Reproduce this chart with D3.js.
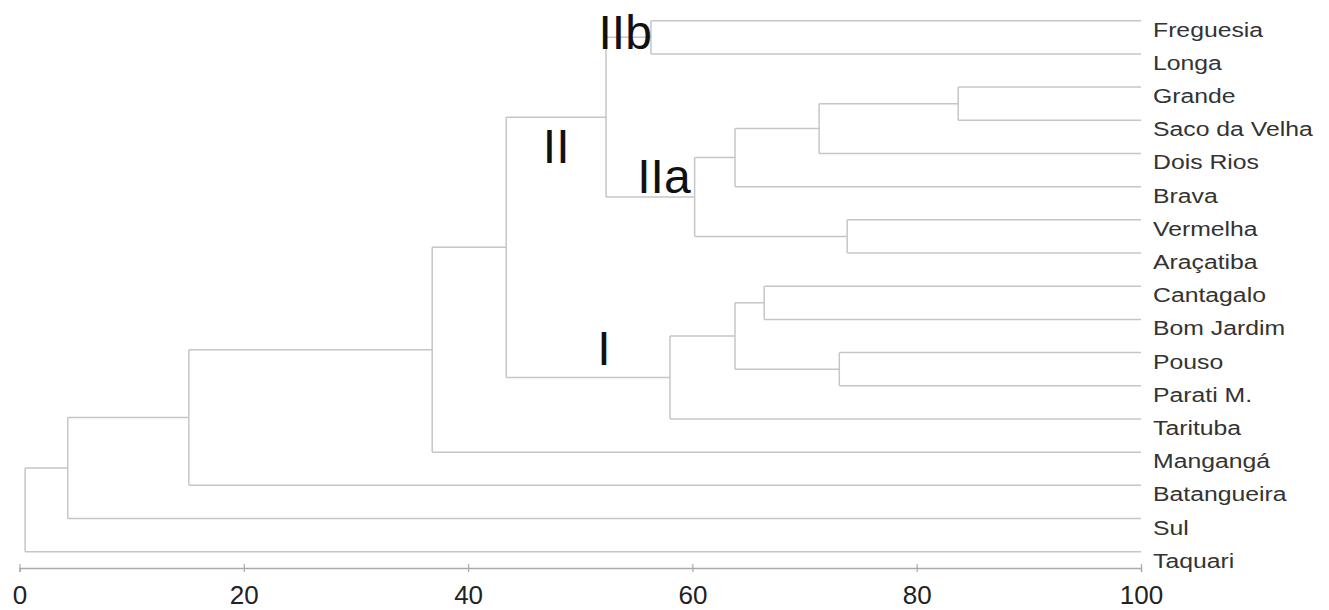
<!DOCTYPE html>
<html>
<head>
<meta charset="utf-8">
<script src="https://cdn.jsdelivr.net/npm/d3@7"></script>
<style>
  html, body { margin: 0; padding: 0; background: #fff; }
  svg { display: block; }
</style>
</head>
<body>
<svg id="chart" width="1329" height="610"></svg>
<script>
// ---- DATA ----
const leaves = ["Freguesia", "Longa", "Grande", "Saco da Velha", "Dois Rios", "Brava",
  "Vermelha", "Araçatiba", "Cantagalo", "Bom Jardim", "Pouso", "Parati M.",
  "Tarituba", "Mangangá", "Batangueira", "Sul", "Taquari"];

// merges: [id, left child, right child, similarity (%)]
const merges = [
  ["IIb", "Freguesia", "Longa", 56.3],
  ["GS", "Grande", "Saco da Velha", 83.7],
  ["GSD", "GS", "Dois Rios", 71.3],
  ["GSDB", "GSD", "Brava", 63.8],
  ["VA", "Vermelha", "Araçatiba", 73.8],
  ["IIa", "GSDB", "VA", 60.2],
  ["II", "IIb", "IIa", 52.3],
  ["CB", "Cantagalo", "Bom Jardim", 66.4],
  ["PP", "Pouso", "Parati M.", 73.1],
  ["CBPP", "CB", "PP", 63.8],
  ["I", "CBPP", "Tarituba", 58.0],
  ["I_II", "II", "I", 43.4],
  ["M", "I_II", "Mangangá", 36.8],
  ["B", "M", "Batangueira", 15.1],
  ["S", "B", "Sul", 4.3],
  ["root", "S", "Taquari", 0.5]
];
const leafSimilarity = 100;

const tickValues = [0, 20, 40, 60, 80, 100];

const groupLabels = ["IIb", "IIa", "II", "I"];

// ---- BUILD TREE ----
const nodes = {};
leaves.forEach(n => nodes[n] = { name: n, value: leafSimilarity, leaf: true });
merges.forEach(([id, a, b, v]) => nodes[id] = { name: id, value: v, children: [nodes[a], nodes[b]] });
const root = d3.hierarchy(nodes["root"]);

// ---- SCALES ----
const x = d3.scaleLinear().domain([0, 100]).range([19.5, 1141]);
const yLeaf = d3.scalePoint().domain(leaves).range([20.7, 551.7]);

root.eachAfter(n => {
  if (!n.children) n.y = yLeaf(n.data.name);
  else n.y = d3.mean(n.children, c => c.y);
  n.px = x(n.data.value);
});

const svg = d3.select("#chart");
const lineColor = "#c6c6c6";

// links (elbow)
const g = svg.append("g").attr("fill", "none").attr("stroke", lineColor).attr("stroke-width", 1.5);
root.descendants().forEach(n => {
  if (n.children) {
    const ys = n.children.map(c => c.y);
    g.append("line").attr("x1", n.px).attr("x2", n.px)
      .attr("y1", d3.min(ys)).attr("y2", d3.max(ys));
    n.children.forEach(c => {
      g.append("line").attr("x1", n.px).attr("x2", c.px)
        .attr("y1", c.y).attr("y2", c.y);
    });
  }
});

// leaf labels
svg.append("g").selectAll("text").data(root.leaves()).join("text")
  .attr("transform", d => `translate(${x(100) + 12},${d.y + 16}) scale(1.18,1)`)
  .attr("font-family", "Liberation Sans, Arial, sans-serif")
  .attr("font-size", 21)
  .attr("fill", "#333")
  .text(d => d.data.name);

// axis
const axisY = 568;
const axis = d3.axisBottom(x).tickValues(tickValues).tickSizeOuter(0).tickSize(4).tickFormat(d3.format("d"));
const ax = svg.append("g").attr("transform", `translate(0,${axisY})`).call(axis);
ax.select(".domain").attr("stroke", "#aaa").attr("stroke-width", 1.5);
ax.selectAll(".tick line").attr("stroke", "#aaa").attr("stroke-width", 1.2).attr("y1", -4).attr("y2", 4);
ax.selectAll(".tick text")
  .attr("y", 36).attr("dy", 0)
  .attr("font-family", "Liberation Sans, Arial, sans-serif")
  .attr("font-size", 26).attr("fill", "#222");

// group labels
const byName = {};
root.descendants().forEach(n => byName[n.data.name] = n);
const labelPlace = {
  "IIb": n => ({ x: n.px + 1, y: n.y + 12, anchor: "end" }),
  "IIa": n => ({ x: n.px - 4, y: n.y - 4, anchor: "end" }),
  "II": n => ({ x: (n.px + n.parent.px) / 2, y: n.y + 46, anchor: "middle" }),
  "I": n => ({ x: n.px - 66, y: n.y - 12, anchor: "middle" })
};
groupLabels.forEach(name => {
  const p = labelPlace[name](byName[name]);
  svg.append("text").attr("x", p.x).attr("y", p.y)
    .attr("text-anchor", p.anchor)
    .attr("font-family", "Liberation Sans, Arial, sans-serif")
    .attr("font-size", 48).attr("fill", "#111")
    .text(name);
});
</script>
</body>
</html>
